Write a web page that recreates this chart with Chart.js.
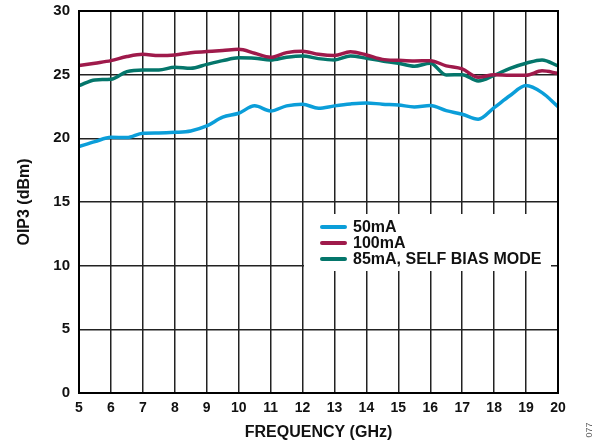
<!DOCTYPE html>
<html>
<head>
<meta charset="utf-8">
<script src="https://cdn.jsdelivr.net/npm/chart.js@4/dist/chart.umd.min.js"></script>
<style>
html, body { margin: 0; padding: 0; background: #fff; }
#wrap { width: 602px; height: 446px; }
</style>
</head>
<body>
<div id="wrap"><canvas id="oipChart"></canvas></div>
<script>
// frequency points (GHz)
const freqs = [5, 5.5, 6, 6.5, 7, 7.5, 8, 8.5, 9, 9.5, 10, 10.5, 11, 11.5, 12, 12.5,
  13, 13.5, 14, 14.5, 15, 15.5, 16, 16.5, 17, 17.5, 18, 18.5, 19, 19.5, 20];

// OIP3 (dBm)
const oip50mA = [19.35, 19.74, 20.08, 20.06, 20.4, 20.42, 20.47, 20.58, 20.97, 21.66, 21.97,
  22.55, 22.15, 22.55, 22.68, 22.36, 22.55, 22.7, 22.78, 22.68, 22.62, 22.47, 22.57,
  22.18, 21.89, 21.5, 22.41, 23.36, 24.14, 23.59, 22.49];
const oip100mA = [25.71, 25.9, 26.1, 26.42, 26.6, 26.5, 26.55, 26.73, 26.81, 26.89, 26.99,
  26.68, 26.37, 26.73, 26.84, 26.6, 26.5, 26.8, 26.55, 26.2, 26.13, 26.08, 26.1,
  25.69, 25.45, 24.8, 25.0, 24.95, 24.95, 25.3, 25.1];
const oip85mASelf = [24.14, 24.59, 24.64, 25.24, 25.37, 25.37, 25.58, 25.5, 25.81, 26.1, 26.32,
  26.29, 26.16, 26.37, 26.47, 26.26, 26.16, 26.47, 26.29, 26.08, 25.9, 25.66, 25.9,
  24.98, 25.0, 24.5, 24.95, 25.5, 25.9, 26.16, 25.69];

const seriesNames = ['50mA', '100mA', '85mA, SELF BIAS MODE'];
const seriesColors = ['#0b9ed9', '#9f1a4b', '#04766b'];
const xTicks = [5, 20, 1];   // min, max, step
const yTicks = [0, 30, 5];

const FONT = '"Liberation Sans", Arial, sans-serif';

function toPoints(vals) {
  return freqs.map((f, i) => ({ x: f, y: vals[i] }));
}

// white legend box sitting inside the plot, plus the frame
const insideLegend = {
  id: 'insideLegend',
  beforeDatasetsDraw(chart) {
    const ctx = chart.ctx;
    const ca = chart.chartArea;
    const bx = ca.left + 225, by = ca.top + 203;
    ctx.save();
    ctx.fillStyle = '#fff';
    ctx.fillRect(bx, by, 247, 57);
    ctx.restore();
  },
  afterDatasetsDraw(chart) {
    const ctx = chart.ctx;
    const ca = chart.chartArea;
    ctx.save();
    ctx.strokeStyle = '#000';
    ctx.lineWidth = 2;
    ctx.strokeRect(ca.left, ca.top, ca.right - ca.left, ca.bottom - ca.top);

    const lx = ca.left + 243;
    let ly = ca.top + 216;
    ctx.font = 'bold 16px ' + FONT;
    ctx.textBaseline = 'middle';
    ctx.fillStyle = '#111';
    chart.data.datasets.forEach(ds => {
      ctx.strokeStyle = ds.borderColor;
      ctx.lineWidth = 4;
      ctx.lineCap = 'round';
      ctx.beginPath();
      ctx.moveTo(lx, ly);
      ctx.lineTo(lx + 23, ly);
      ctx.stroke();
      ctx.fillText(ds.label, lx + 31, ly + 1);
      ly += 16;
    });

    // figure number
    ctx.translate(590, 430);
    ctx.rotate(-Math.PI / 2);
    ctx.font = '9px ' + FONT;
    ctx.fillStyle = '#666';
    ctx.textAlign = 'center';
    ctx.fillText('077', 0, 0);
    ctx.restore();
  }
};

const ctx = document.getElementById('oipChart');
const oipChart = new Chart(ctx, {
  type: 'line',
  data: {
    datasets: [oip50mA, oip100mA, oip85mASelf].map((vals, i) => ({
      label: seriesNames[i],
      data: toPoints(vals),
      borderColor: seriesColors[i],
      borderWidth: 3.5,
      pointRadius: 0,
      tension: 0.4,
      cubicInterpolationMode: 'monotone',
      fill: false
    }))
  },
  options: {
    responsive: true,
    maintainAspectRatio: false,
    animation: false,
    layout: { padding: { top: 11, right: 44, left: 0, bottom: 0 } },
    plugins: {
      legend: { display: false },
      tooltip: { enabled: false }
    },
    scales: {
      x: {
        type: 'linear',
        min: xTicks[0],
        max: xTicks[1],
        afterFit: s => { s.height = 53; s.paddingLeft = 0; s.paddingRight = 0; },
        ticks: {
          stepSize: xTicks[2],
          padding: 7,
          color: '#111',
          font: { family: FONT, size: 14, weight: 'bold' }
        },
        grid: { color: '#222', lineWidth: 1.5, drawTicks: false },
        border: { color: '#000', width: 2 },
        title: {
          display: true,
          text: 'FREQUENCY (GHz)',
          color: '#111',
          padding: { top: 0, bottom: 4 },
          font: { family: FONT, size: 16, weight: 'bold' }
        }
      },
      y: {
        min: yTicks[0],
        max: yTicks[1],
        afterFit: s => { s.width = 79; s.paddingTop = 0; s.paddingBottom = 0; },
        ticks: {
          stepSize: yTicks[2],
          padding: 9,
          color: '#111',
          font: { family: FONT, size: 15, weight: 'bold' }
        },
        grid: { color: '#222', lineWidth: 1.5, drawTicks: false },
        border: { color: '#000', width: 2 },
        title: {
          display: true,
          text: 'OIP3 (dBm)',
          color: '#111',
          padding: { top: 15, bottom: 0 },
          font: { family: FONT, size: 16, weight: 'bold' }
        }
      }
    }
  },
  plugins: [insideLegend]
});
</script>
</body>
</html>
